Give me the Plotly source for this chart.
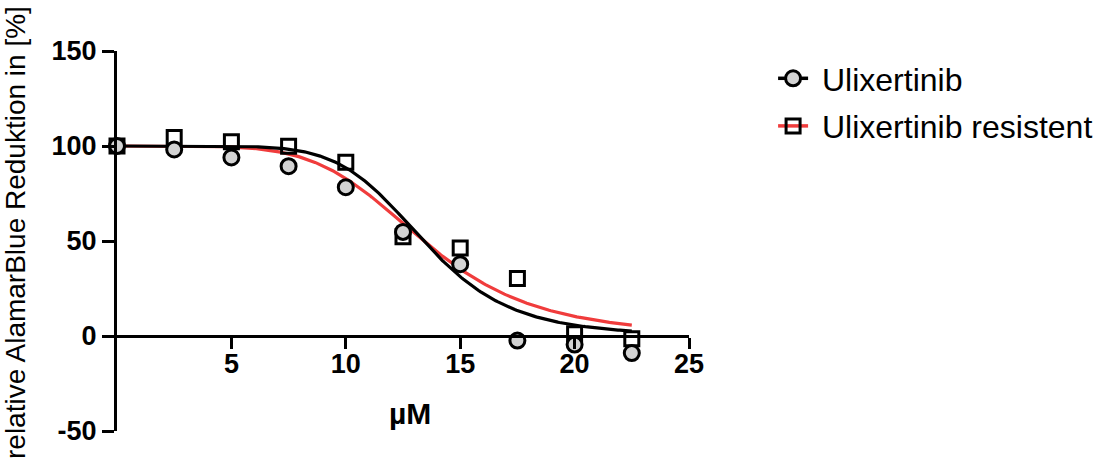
import numpy as np
import plotly.graph_objects as go

# Concentrations (µM) and measured relative AlamarBlue reduction (%)
conc = [0, 2.5, 5, 7.5, 10, 12.5, 15, 17.5, 20, 22.5]
ulix = [100, 98.2, 94, 89.4, 78.3, 54.8, 37.8, -2.4, -4.5, -9]
ulix_res = [100, 104.5, 102.2, 99.9, 91.5, 52.3, 46.3, 30.2, 1.2, -1.4]

# Four-parameter logistic fit parameters: top, bottom, IC50, Hill slope
fit_ulix = dict(top=100, bottom=0, ic50=13.4, hill=7.0)
fit_ulix_res = dict(top=100, bottom=0, ic50=13.4, hill=5.4)

x_ticks = [5, 10, 15, 20, 25]
y_ticks = [-50, 0, 50, 100, 150]
y_tick_text = ["-50", "0", "50", "100", "150"]

RED = "#F03C3C"
GREY = "#D3D3D3"
FONT = "Liberation Sans, Arial, sans-serif"
PAD = "\u00a0"  # small gap between legend symbol and label


def four_pl(x, top, bottom, ic50, hill):
    x = np.asarray(x, dtype=float)
    return bottom + (top - bottom) / (1.0 + (x / ic50) ** hill)


xs = np.linspace(0, 22.5, 300)

fig = go.Figure()

# fitted curves
fig.add_trace(go.Scatter(x=xs, y=four_pl(xs, **fit_ulix_res), mode="lines",
                         line=dict(color=RED, width=3.2), showlegend=False,
                         hoverinfo="skip"))
fig.add_trace(go.Scatter(x=xs, y=four_pl(xs, **fit_ulix), mode="lines",
                         line=dict(color="black", width=3.2), showlegend=False,
                         hoverinfo="skip"))

# measured points
fig.add_trace(go.Scatter(x=conc, y=ulix_res, mode="markers", showlegend=False,
                         marker=dict(symbol="square-open", size=14, color="black",
                                     line=dict(width=3, color="black")),
                         cliponaxis=False))
fig.add_trace(go.Scatter(x=conc, y=ulix, mode="markers", showlegend=False,
                         marker=dict(symbol="circle", size=15, color=GREY,
                                     line=dict(width=3, color="black")),
                         cliponaxis=False))

# legend entries
fig.add_trace(go.Scatter(x=[None], y=[None], mode="lines+markers",
                         name=PAD + "Ulixertinib", legendgroup="a",
                         line=dict(color="black", width=3.5),
                         marker=dict(symbol="circle", size=15, color=GREY,
                                     line=dict(width=3, color="black"))))
fig.add_trace(go.Scatter(x=[None], y=[None], mode="lines+markers",
                         name=PAD + "Ulixertinib resistent", legendgroup="b",
                         line=dict(color=RED, width=3.5),
                         marker=dict(symbol="square-open", size=14, color="black",
                                     line=dict(width=3, color="black"))))

fig.update_layout(
    width=1113, height=468,
    margin=dict(l=117, r=424, t=51, b=37),
    paper_bgcolor="white", plot_bgcolor="white",
    font=dict(family=FONT, color="black"),
    legend=dict(x=1.147, y=1.0, xanchor="left", yanchor="top",
                font=dict(family=FONT, size=32, color="black"),
                itemwidth=30,
                tracegroupgap=3, bgcolor="rgba(0,0,0,0)"),
    xaxis=dict(range=[0, 25], anchor="free", position=0.25,
               tickvals=x_ticks, ticktext=[str(v) for v in x_ticks],
               ticks="outside", ticklen=11, tickwidth=3, tickcolor="black",
               showline=True, linewidth=3, linecolor="black",
               showgrid=False, zeroline=False, ticklabelstandoff=-8,
               tickfont=dict(family=FONT, size=27, color="black", weight="bold")),
    yaxis=dict(range=[-50, 150], tickvals=y_ticks, ticktext=y_tick_text,
               ticks="outside", ticklen=12, tickwidth=3, tickcolor="black",
               showline=True, linewidth=3, linecolor="black",
               showgrid=False, zeroline=False,
               tickfont=dict(family=FONT, size=27, color="black", weight="bold")),
    annotations=[
        dict(text="µM", xref="paper", yref="paper", x=0.5127, y=0.046,
             xanchor="center", yanchor="middle", showarrow=False,
             font=dict(family=FONT, size=30, color="black", weight="bold")),
        dict(text="relative AlamarBlue Reduktion in [%]", xref="paper", yref="paper",
             x=-0.177, y=0.523, xanchor="center", yanchor="middle", textangle=-90,
             showarrow=False, font=dict(family=FONT, size=28, color="black")),
    ],
)

fig.write_html("out.html")
